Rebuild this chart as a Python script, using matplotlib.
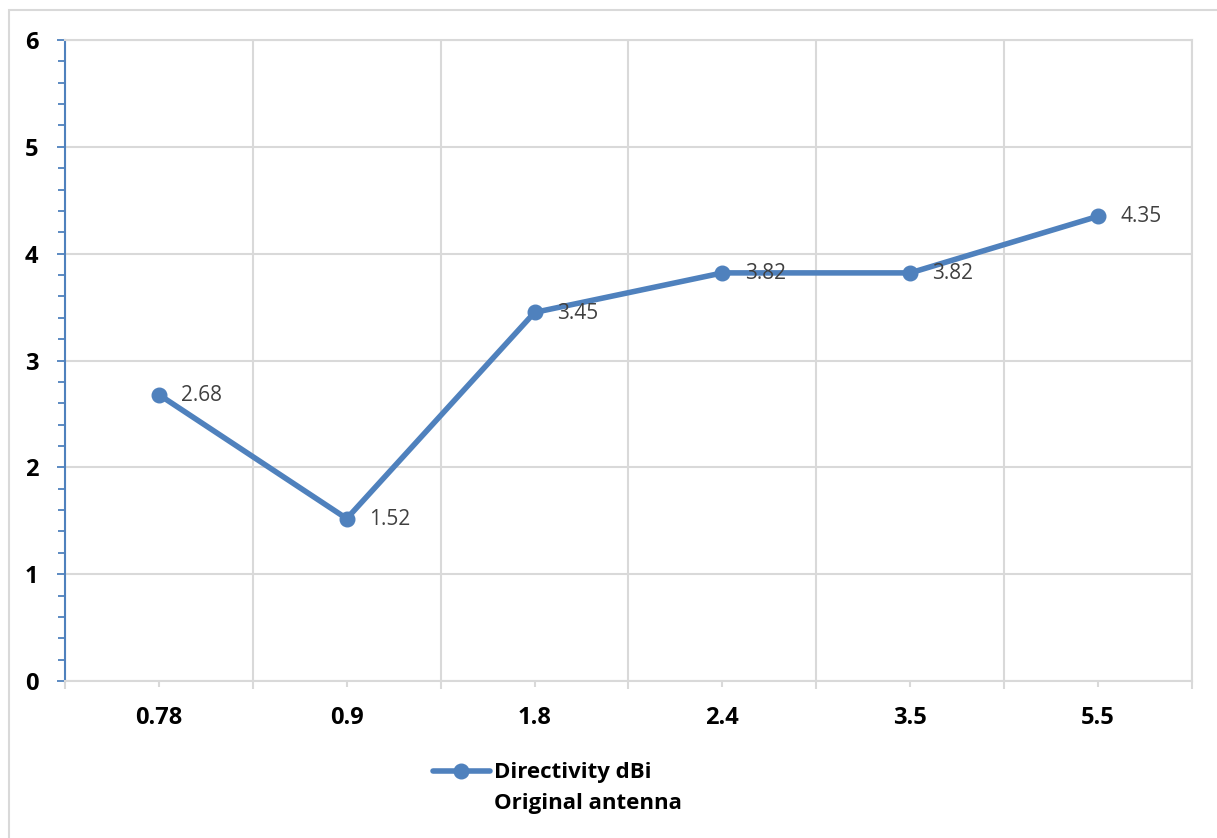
import matplotlib
matplotlib.use("Agg")
import matplotlib.pyplot as plt
from matplotlib.patches import Rectangle
from matplotlib.ticker import MultipleLocator, FixedLocator, NullFormatter
from matplotlib.offsetbox import HPacker

categories = ["0.78", "0.9", "1.8", "2.4", "3.5", "5.5"]
directivity = [2.68, 1.52, 3.45, 3.82, 3.82, 4.35]
series_label = "Directivity dBi\nOriginal antenna"

BLUE = "#4F81BD"
GRID = "#D9D9D9"
FONT = ["Open Sans", "DejaVu Sans"]

W, H = 1217, 838
plt.rcParams["font.family"] = FONT
fig = plt.figure(figsize=(W / 100, H / 100), dpi=100)

# chart-area border (clipped at right/bottom like reference)
fig.patches.append(Rectangle((9 / W, -0.2), 1.3, 1 - 10 / H + 0.2,
                             transform=fig.transFigure, fill=False,
                             edgecolor=GRID, lw=1.5, zorder=0))

L, R, T, B = 65, 1192, 40, 681
ax = fig.add_axes([L / W, 1 - B / H, (R - L) / W, (B - T) / H])

x = list(range(len(categories)))
line, = ax.plot(x, directivity, color=BLUE, lw=4, marker="o", ms=10.5,
                solid_capstyle="round", zorder=5, clip_on=False)

for xi, v in zip(x, directivity):
    ax.annotate(f"{v:.2f}", (xi, v), xytext=(16, -0.5), textcoords="offset points",
                ha="left", va="center", fontsize=15, color="#404040", zorder=6)

ax.set_xlim(-0.5, len(categories) - 0.5)
ax.set_ylim(0, 6)

# y axis
ax.yaxis.set_major_locator(MultipleLocator(1))
ax.yaxis.set_minor_locator(MultipleLocator(0.2))
ax.tick_params(axis="y", which="major", length=6, width=1.3, color=BLUE,
               labelsize=17, pad=13)
ax.tick_params(axis="y", which="minor", length=5, width=1.3, color=BLUE)
for lab in ax.get_yticklabels():
    lab.set_fontweight("bold")

# x axis
ax.set_xticks(x)
ax.set_xticklabels(categories, fontsize=17, fontweight="bold")
ax.xaxis.set_minor_locator(FixedLocator([i - 0.5 for i in range(len(categories) + 1)]))
ax.xaxis.set_minor_formatter(NullFormatter())
ax.tick_params(axis="x", which="major", length=4, width=1.5, color=GRID, pad=14)
ax.tick_params(axis="x", which="minor", length=6, width=1.5, color=GRID)

ax.grid(axis="y", which="major", color=GRID, lw=1.5, zorder=0)
ax.grid(axis="x", which="minor", color=GRID, lw=1.5, zorder=0)
ax.set_axisbelow(True)

for s in ["top", "right", "bottom"]:
    ax.spines[s].set_color(GRID)
    ax.spines[s].set_linewidth(1.5)
ax.spines["left"].set_color(BLUE)
ax.spines["left"].set_linewidth(1.5)

leg = fig.legend(handles=[line], labels=[series_label], loc="upper left",
                 bbox_to_anchor=(433 / W, 1 - 762 / H), frameon=False,
                 borderpad=0, borderaxespad=0, handlelength=2.55,
                 handletextpad=0.2, handleheight=1.2,
                 prop={"family": FONT, "weight": "bold", "size": 16})
for t in leg.get_texts():
    t.set_linespacing(1.62)
for hp in leg.findobj(HPacker):
    hp.align = "top"

fig.savefig("out.png", dpi=100)
